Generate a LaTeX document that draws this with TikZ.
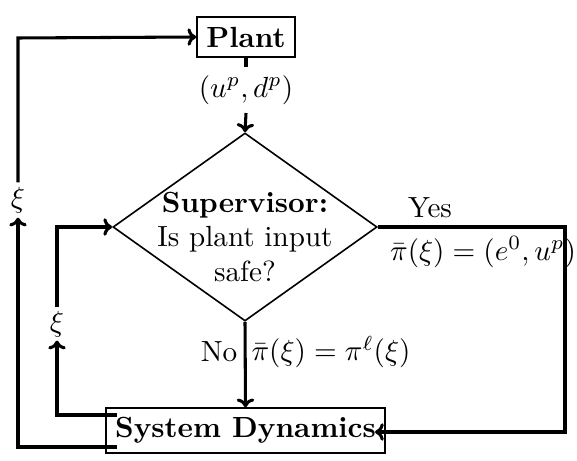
\documentclass[tikz,border=0pt]{standalone}
\usetikzlibrary{shapes.geometric,calc,arrows.meta}
\begin{document}
\begin{tikzpicture}[x=0.343pt,y=-0.343pt,
  flow/.style={line width=1.05pt,-{To[length=3pt,width=6pt]}},
  plainflow/.style={line width=1.05pt},
  box/.style={draw,line width=0.55pt,inner sep=0pt},
  lab/.style={inner sep=0pt}]
\useasboundingbox (0,0) rectangle (577,461);
% nodes
\node[box,minimum width=33.6pt,minimum height=13.7pt] (plant) at (246,37) {\textbf{Plant}};
\node[diamond,draw,line width=0.55pt,inner sep=0pt,minimum width=90.6pt,minimum height=64.5pt] (sup) at (245,227) {};
\node[lab,align=center] (suptext) at (245,237) {\textbf{Supervisor:}\\Is plant input\\safe?};
\node[box,minimum width=95.7pt,minimum height=15.4pt] (sd) at (245.5,430.5) {\textbf{System Dynamics}};
\node[lab,minimum height=15.4pt] (uplab) at (246,90) {$(u^p,d^p)$};
\node[lab,minimum height=11.7pt] (xi1) at (18,200) {$\xi$};
\node[lab,minimum height=11pt] (xi2) at (57,324) {$\xi$};
\node[lab] (yes) at (430,208) {Yes};
\node[lab] (pyes) at (483,252) {$\bar\pi(\xi)=(e^0,u^p)$};
\node[lab] (no) at (219,352) {No};
\node[lab] (pno) at (331,352) {$\bar\pi(\xi)=\pi^\ell(\xi)$};
% coordinates
\coordinate (o1) at (117,447);
\coordinate (o2) at (117,415);
\coordinate (corner1) at (18,38);
\coordinate (corner2) at (57,227);
\coordinate (rcorner) at (565,227);
\coordinate (sdin) at (375,432);
% connectors
\draw[flow] (o1) -| (xi1.south);
\draw[flow] (xi1.north) -- (corner1) -- (plant.west);
\draw[flow] (o2) -| (xi2.south);
\draw[flow] (xi2.north) -- (corner2) -- (sup.west);
\draw[plainflow] (plant.south) -- (uplab.north);
\draw[flow] (uplab.south) -- (sup.north);
\draw[flow] (sup.south) -- (sd.north);
\draw[flow] (sup.east) -- (rcorner) |- (sdin);
\end{tikzpicture}
\end{document}
